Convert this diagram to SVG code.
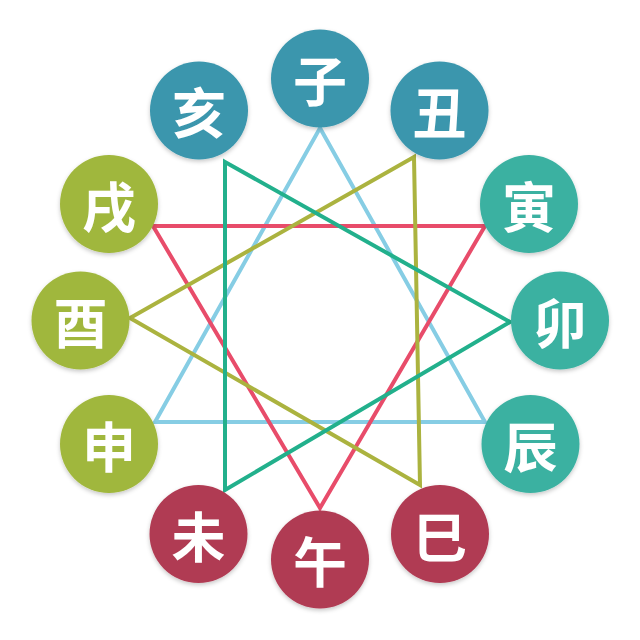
<svg xmlns="http://www.w3.org/2000/svg" width="640" height="640" viewBox="0 0 640 640">
  <defs>
    <filter id="sh" x="-20%" y="-20%" width="140%" height="150%">
      <feDropShadow dx="0" dy="2" stdDeviation="2" flood-color="#000" flood-opacity="0.22"/>
    </filter>
  </defs>
  <style>
    .tri { fill: none; stroke-width: 4; stroke-linejoin: miter; }
    .node circle { filter: url(#sh); }
    .node text { fill: #ffffff; font-family: "Noto Sans CJK SC", "Noto Sans CJK JP", sans-serif; font-weight: 700; font-size: 54px; text-anchor: middle; dominant-baseline: central; }
    .blue circle { fill: #3a96ad; }
    .teal circle { fill: #3bb1a1; }
    .red circle { fill: #b03a52; }
    .olive circle { fill: #a0b73c; }
  </style>
  <rect width="640" height="640" fill="#ffffff"/>
  <g id="connectors">
    <polygon class="tri" points="320,128 485,422 155,422" stroke="#86cde4"/>
    <polygon class="tri" points="153,226 485,226 320,508" stroke="#e84c6a"/>
    <polygon class="tri" points="414,157 130,318 420,485" stroke="#abb33f"/>
    <polygon class="tri" points="225,162 510,322 225,490" stroke="#22b08c"/>
  </g>
  <g id="zi" class="node blue"><circle cx="320" cy="78.5" r="49"/><text x="320" y="78.5">子</text></g>
  <g id="chou" class="node blue"><circle cx="439.5" cy="110.5" r="49"/><text x="439.5" y="110.5">丑</text></g>
  <g id="yin" class="node teal"><circle cx="529" cy="204" r="49"/><text x="529" y="204">寅</text></g>
  <g id="mao" class="node teal"><circle cx="560" cy="320.5" r="49"/><text x="560" y="320.5">卯</text></g>
  <g id="chen" class="node teal"><circle cx="530.5" cy="444" r="49"/><text x="530.5" y="444">辰</text></g>
  <g id="si" class="node red"><circle cx="440" cy="534" r="49"/><text x="440" y="534">巳</text></g>
  <g id="wu" class="node red"><circle cx="320" cy="559.5" r="49"/><text x="320" y="559.5">午</text></g>
  <g id="wei" class="node red"><circle cx="198.5" cy="534" r="49"/><text x="198.5" y="534">未</text></g>
  <g id="shen" class="node olive"><circle cx="109" cy="444" r="49"/><text x="109" y="444">申</text></g>
  <g id="you" class="node olive"><circle cx="80.5" cy="320.5" r="49"/><text x="80.5" y="320.5">酉</text></g>
  <g id="xu" class="node olive"><circle cx="109" cy="204" r="49"/><text x="109" y="204">戌</text></g>
  <g id="hai" class="node blue"><circle cx="199" cy="110.5" r="49"/><text x="199" y="110.5">亥</text></g>
</svg>
